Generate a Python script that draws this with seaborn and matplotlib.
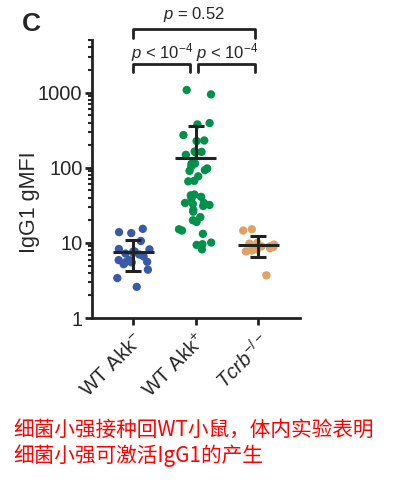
import numpy as np
import pandas as pd
import matplotlib
matplotlib.use('Agg')
import matplotlib.pyplot as plt
import matplotlib.transforms as mtransforms
from matplotlib.ticker import LogLocator, NullFormatter
import seaborn as sns

# values (IgG1 gMFI per mouse)
wt_akk_neg = [13.9, 15.4, 13.5, 10.6, 8.2, 7.7, 7.7, 8.3, 7.2, 7.4, 7.0,
              6.6, 5.9, 5.9, 5.6, 5.6, 5.2, 5.5, 4.4, 3.4, 2.6]
wt_akk_pos = [950, 1086, 378, 394, 273, 227, 231, 163, 165, 149, 160,
              113, 114, 104, 98, 93, 91, 77, 66, 67, 43, 41, 39, 44,
              31, 33, 32, 34, 34, 26, 27.5, 22, 19, 20, 15.2, 14.6, 13.2,
              9.4, 9.6, 10.1, 8.2]
tcrb_ko = [14.6, 15.2, 9.0, 9.8, 9.5, 8.8, 8.5, 10.0, 9.0, 7.7, 7.9, 8.2, 3.7]

groups = ["WT Akk-", "WT Akk+", "Tcrb-/-"]
tick_labels = [r"WT Akk$^{-}$", r"WT Akk$^{+}$", r"$\mathit{Tcrb}^{-/-}$"]
colors = ["#3a5aa8", "#00924a", "#e0a263"]
pvals = ["$p$ < 10$^{-4}$", "$p$ < 10$^{-4}$", "$p$ = 0.52"]

df = pd.DataFrame({
    "group": [groups[0]] * len(wt_akk_neg) + [groups[1]] * len(wt_akk_pos) + [groups[2]] * len(tcrb_ko),
    "value": wt_akk_neg + wt_akk_pos + tcrb_ko,
})

sns.set_style("ticks")
plt.rcParams['font.family'] = ['Liberation Sans', 'DejaVu Sans']
plt.rcParams['mathtext.fontset'] = 'custom'
plt.rcParams['mathtext.rm'] = 'Liberation Sans'
plt.rcParams['mathtext.it'] = 'Liberation Sans:italic'

fig = plt.figure(figsize=(3.97, 4.8), dpi=100)
ax = fig.add_axes([0.232, 0.3375, 0.524, 0.58])

ax.set_yscale("log")
np.random.seed(7)
sns.stripplot(data=df, x="group", y="value", hue="group", palette=colors,
              order=groups, size=6.0, jitter=0.27, legend=False, ax=ax,
              zorder=2, linewidth=0)

# mean +/- SD (arithmetic, like the original)
for i, g in enumerate(groups):
    v = df.loc[df.group == g, "value"].to_numpy()
    m, sd = v.mean(), v.std(ddof=1)
    lo = sd if m - sd > 0 else 0
    ax.plot([i - 0.33, i + 0.33], [m, m], color="#222222", lw=2.2, zorder=3,
            solid_capstyle="butt")
    ax.errorbar(i, m, yerr=[[lo], [sd]], color="#222222", elinewidth=2.2,
                capsize=5.5, capthick=2.2, fmt="none", zorder=3)

ax.set_xlim(-0.66, 2.67)
ax.set_ylim(1, 5090)
ax.yaxis.set_minor_locator(LogLocator(base=10, subs=np.arange(2, 10), numticks=10))
ax.yaxis.set_minor_formatter(NullFormatter())
ax.set_yticks([1, 10, 100, 1000], ["1", "10", "100", "1000"])
ax.set_xticks(range(3), tick_labels, rotation=45, ha="right",
              rotation_mode="anchor")
ax.set_xlabel("")
ax.set_ylabel("")
ax.tick_params(axis="both", labelsize=14.5, width=2, color="#222222", pad=2)
ax.tick_params(axis="y", which="major", length=5)
ax.tick_params(axis="y", which="minor", length=3, width=1.5)
ax.tick_params(axis="x", length=5, pad=4)
for s in ["left", "bottom"]:
    ax.spines[s].set_linewidth(2)
    ax.spines[s].set_color("#222222")
sns.despine(ax=ax)

# significance brackets (x in data units, y in figure pixels)
trans = mtransforms.blended_transform_factory(ax.transData, fig.transFigure)
def fy(px):
    return 1 - px / 480

brackets = [(0.0, 0.91, 64, 72, 53), (1.04, 1.95, 64, 72, 53), (0.0, 1.95, 29, 38, 15)]
for (x0, x1, ytop, ybot, ytxt), lab in zip(brackets, pvals):
    ax.plot([x0, x0, x1, x1], [fy(ybot), fy(ytop), fy(ytop), fy(ybot)],
            color="#222222", lw=2, transform=trans, clip_on=False)
    ax.text((x0 + x1) / 2, fy(ytxt), lab, transform=trans, ha="center",
            va="center", fontsize=12)

fig.text(29 / 397, fy(202), "IgG1 gMFI", fontsize=15.5, rotation=90,
         ha="center", va="center")
fig.text(31 / 397, fy(24), "C", fontsize=19, fontweight="bold",
         ha="center", va="center")

fig.text(13 / 397, fy(430), "细菌小强接种回WT小鼠，体内实验表明", color="red",
         fontsize=14.9, family=["Noto Sans CJK SC", "DejaVu Sans"], va="center")
fig.text(13 / 397, fy(456), "细菌小强可激活IgG1的产生", color="red",
         fontsize=14.9, family=["Noto Sans CJK SC", "DejaVu Sans"], va="center")

fig.savefig("out.png", dpi=100)
